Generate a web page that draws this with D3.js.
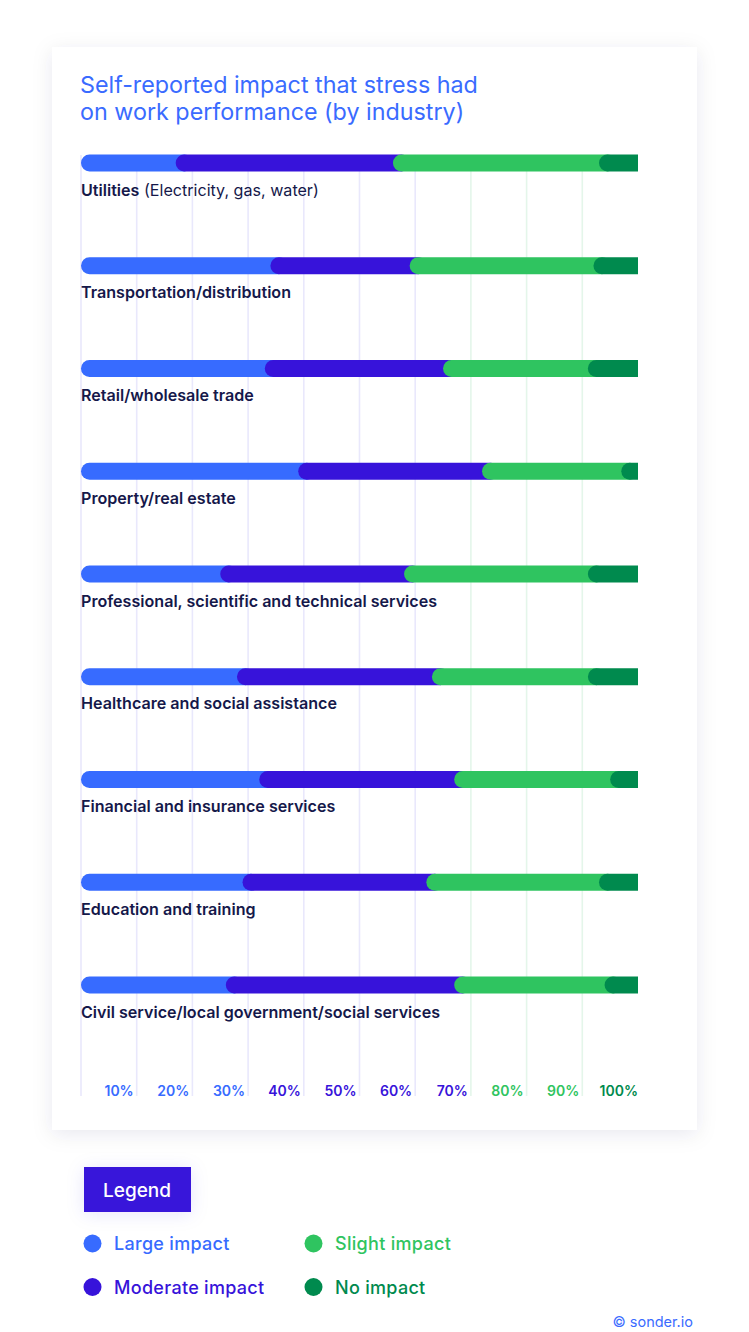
<!DOCTYPE html>
<html>
<head>
<meta charset="utf-8">
<script src="https://cdn.jsdelivr.net/npm/d3@7"></script>
<style>
  html, body { margin: 0; padding: 0; background: #ffffff; }
  svg { display: block; }
  text { font-family: "Inter", "Lato", sans-serif; }
</style>
</head>
<body>
<svg id="chart" width="749" height="1332"></svg>
<script>
// ---------- DATA ----------
const categories = [
  "Utilities (Electricity, gas, water)",
  "Transportation/distribution",
  "Retail/wholesale trade",
  "Property/real estate",
  "Professional, scientific and technical services",
  "Healthcare and social assistance",
  "Financial and insurance services",
  "Education and training",
  "Civil service/local government/social services"
];
const largeImpact    = [17, 34, 33, 39, 25, 28, 32, 29, 26];
const moderateImpact = [39, 25, 32, 33, 33, 35, 35, 33, 41];
const slightImpact   = [37, 33, 26, 25, 33, 28, 28, 31, 27];
const noImpact       = [ 7,  8,  9,  3,  9,  9,  5,  7,  6];
const seriesNames = ["Large impact", "Moderate impact", "Slight impact", "No impact"];
const gridValues = [0, 10, 20, 30, 40, 50, 60, 70, 80, 90];
const tickValues = [10, 20, 30, 40, 50, 60, 70, 80, 90, 100];
const tickLabels = ["10%", "20%", "30%", "40%", "50%", "60%", "70%", "80%", "90%", "100%"];
const titleLines = ["Self-reported impact that stress had", "on work performance (by industry)"];

// ---------- STYLE ----------
const colors = ["#376bff", "#3713da", "#2fc460", "#008a4e"];
const textDark = "#15184a";

const svg = d3.select("#chart");
const defs = svg.append("defs");

const f = defs.append("filter").attr("id", "cardShadow")
  .attr("x", "-10%").attr("y", "-10%").attr("width", "120%").attr("height", "120%");
f.append("feDropShadow").attr("dx", 0).attr("dy", 4).attr("stdDeviation", 10)
  .attr("flood-color", "#20204a").attr("flood-opacity", 0.09);

const f2 = defs.append("filter").attr("id", "boxShadow")
  .attr("x", "-40%").attr("y", "-60%").attr("width", "180%").attr("height", "220%");
f2.append("feDropShadow").attr("dx", 0).attr("dy", 2).attr("stdDeviation", 9)
  .attr("flood-color", "#3713da").attr("flood-opacity", 0.10);

// card
svg.append("rect").attr("x", 52).attr("y", 47).attr("width", 645).attr("height", 1083)
  .attr("fill", "#fff").attr("filter", "url(#cardShadow)");

// scales
const x = d3.scaleLinear().domain([0, 100]).range([81, 638]);
const y = d3.scalePoint().domain(categories).range([163, 985]);
const barH = 17, r = barH / 2;

// title
svg.append("g").selectAll("text").data(titleLines).join("text")
  .attr("x", 80).attr("y", (d, i) => 92.5 + i * 27)
  .attr("fill", "#3a6bff").attr("font-size", 23.3).attr("font-weight", 400)
  .text(d => d);

// gridlines
svg.append("g").selectAll("line").data(gridValues).join("line")
  .attr("x1", d => x(d)).attr("x2", d => x(d))
  .attr("y1", 155).attr("y2", 1096)
  .attr("stroke", d => d <= 60 ? "#e9e8fc" : "#e4f6ea")
  .attr("stroke-width", 1.6);

// tick labels
const tickColor = v => v <= 30 ? colors[0] : v <= 70 ? colors[1] : v <= 90 ? colors[2] : colors[3];
svg.append("g").selectAll("text").data(tickValues).join("text")
  .attr("x", d => x(d) - (d === 100 ? 0 : 3)).attr("y", 1096)
  .attr("text-anchor", "end").attr("font-size", 14).attr("font-weight", 600)
  .attr("fill", d => tickColor(d))
  .text((d, i) => tickLabels[i]);

// stacked data
const rows = categories.map((c, i) => {
  const vals = [largeImpact[i], moderateImpact[i], slightImpact[i], noImpact[i]];
  let acc = 0;
  return { cat: c, segs: vals.map((v, k) => { const s = acc; acc += v; return { k, start: s, end: acc }; }) };
});

defs.append("clipPath").attr("id", "barClip").append("rect")
  .attr("x", x(0) - 1).attr("y", 0).attr("width", x(100) - x(0) + 1).attr("height", 1332);

const barsG = svg.append("g").attr("clip-path", "url(#barClip)");
const rowG = barsG.selectAll("g").data(rows).join("g");
rowG.selectAll("rect").data(d => d.segs).join("rect")
  .attr("x", d => x(d.start))
  .attr("y", function() { return y(d3.select(this.parentNode).datum().cat) - r; })
  .attr("width", d => x(d.end) - x(d.start) + 2 * r)
  .attr("height", barH).attr("rx", r).attr("ry", r)
  .attr("fill", d => colors[d.k]);

// category labels
const lab = svg.append("g").selectAll("text").data(categories).join("text")
  .attr("x", 81).attr("y", d => y(d) + 32.5)
  .attr("font-size", 16.1).attr("fill", textDark).attr("font-weight", 600);
lab.each(function(d) {
  const t = d3.select(this);
  const m = d.match(/^(\S+) (\(.*\))$/);
  if (m) {
    t.append("tspan").attr("font-weight", 600).text(m[1]);
    t.append("tspan").attr("font-weight", 400).text(" " + m[2]);
  } else {
    t.text(d);
  }
});

// legend
svg.append("rect").attr("x", 84).attr("y", 1167).attr("width", 107).attr("height", 45)
  .attr("fill", "#3713da").attr("filter", "url(#boxShadow)");
svg.append("text").attr("x", 137).attr("y", 1196.5).attr("text-anchor", "middle")
  .attr("fill", "#fff").attr("font-size", 19).attr("font-weight", 500).text("Legend");

const legPos = [[92.5, 1243.5], [92.5, 1287], [313.5, 1243.5], [313.5, 1287]];
const lg = svg.append("g").selectAll("g").data(seriesNames).join("g")
  .attr("transform", (d, i) => `translate(${legPos[i][0]},${legPos[i][1]})`);
lg.append("circle").attr("r", 9).attr("fill", (d, i) => colors[i]);
lg.append("text").attr("x", 21.5).attr("y", 6.5).attr("font-size", 18).attr("font-weight", 500)
  .attr("letter-spacing", 0.3)
  .attr("fill", (d, i) => colors[i]).text(d => d);

svg.append("text").attr("x", 693).attr("y", 1327).attr("text-anchor", "end")
  .attr("fill", "#3a6bff").attr("font-size", 14.5).attr("font-weight", 400).text("© sonder.io");
</script>
</body>
</html>
